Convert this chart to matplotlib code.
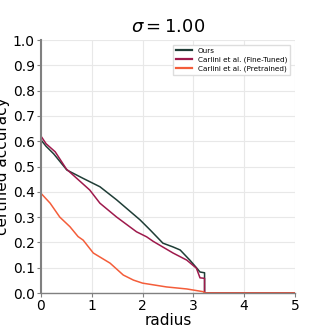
import matplotlib.pyplot as plt

# certified accuracy vs radius, sigma = 1.00
ours_r = [0.0, 0.1, 0.25, 0.51, 0.83, 1.16, 1.49, 1.95, 2.15, 2.4, 2.6, 2.74, 2.93, 3.06, 3.13, 3.22, 3.22, 5.0]
ours_a = [0.605, 0.58, 0.55, 0.486, 0.453, 0.42, 0.368, 0.289, 0.249, 0.197, 0.182, 0.17, 0.13, 0.10, 0.083, 0.08, 0.0, 0.0]

ft_r = [0.0, 0.1, 0.28, 0.5, 0.96, 1.16, 1.49, 1.88, 2.08, 2.21, 2.6, 2.87, 3.06, 3.13, 3.22, 3.22, 5.0]
ft_a = [0.62, 0.59, 0.558, 0.49, 0.407, 0.355, 0.30, 0.242, 0.222, 0.204, 0.158, 0.13, 0.098, 0.06, 0.058, 0.0, 0.0]

pt_r = [0.0, 0.18, 0.37, 0.57, 0.73, 0.83, 1.03, 1.36, 1.62, 1.82, 2.0, 2.47, 2.87, 3.2, 3.22, 5.0]
pt_a = [0.394, 0.355, 0.30, 0.262, 0.223, 0.209, 0.158, 0.118, 0.071, 0.051, 0.039, 0.024, 0.016, 0.005, 0.0, 0.0]

fig = plt.figure(figsize=(3.29, 3.29), dpi=100)
ax = fig.add_axes([0.1246, 0.1094, 0.772, 0.769])

ax.plot(ours_r, ours_a, c='#1f3d36', lw=1.1, label='Ours')
ax.plot(ft_r, ft_a, c='#9e1a4c', lw=1.1, label='Carlini et al. (Fine-Tuned)')
ax.plot(pt_r, pt_a, c='#f45d3a', lw=1.1, label='Carlini et al. (Pretrained)')

ax.set_xlim(0, 5)
ax.set_ylim(0, 1)
ax.set_xticks([0, 1, 2, 3, 4, 5])
ax.set_yticks([i / 10 for i in range(11)])
ax.grid(True, color='#e8e8e8', lw=0.8)
ax.set_axisbelow(True)
for s in ['top', 'right']:
    ax.spines[s].set_visible(False)
ax.spines['left'].set_color('#808080')
ax.spines['left'].set_linewidth(1.5)
ax.spines['bottom'].set_color('#808080')
ax.spines['bottom'].set_linewidth(1.0)
ax.tick_params(colors='#808080', labelcolor='black', labelsize=10, length=3, pad=1.5)

ax.set_xlabel('radius', fontsize=11, labelpad=0)
ax.set_ylabel('certified accuracy', fontsize=11, labelpad=2)
ax.set_title(r'$\sigma = 1.00$', fontsize=13, pad=6)
leg = ax.legend(loc='upper right', fontsize=5.2, frameon=True, fancybox=False,
                edgecolor='#dddddd', framealpha=1.0, handlelength=2.2,
                labelspacing=0.35, borderpad=0.4, bbox_to_anchor=(0.995, 0.995))
for h in leg.get_lines():
    h.set_linewidth(1.6)

fig.savefig('out.png', dpi=100)
